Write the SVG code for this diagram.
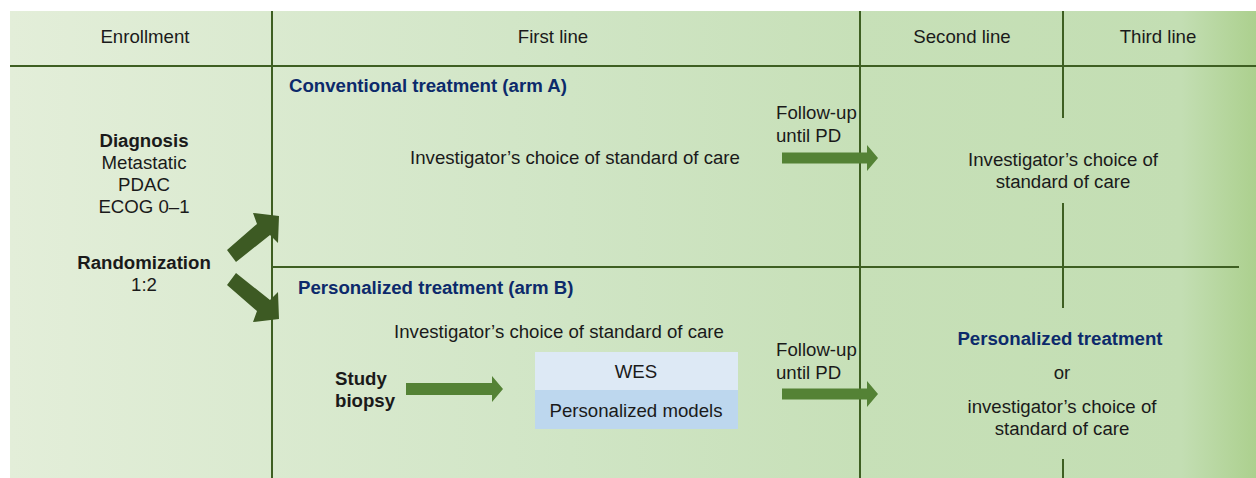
<svg xmlns="http://www.w3.org/2000/svg" width="1256" height="478" viewBox="0 0 1256 478">
  <defs>
    <linearGradient id="bg" x1="10" y1="0" x2="1256" y2="0" gradientUnits="userSpaceOnUse">
      <stop offset="0" stop-color="#e3eed9"/>
      <stop offset="0.45" stop-color="#d0e5c5"/>
      <stop offset="0.68" stop-color="#c7e0b8"/>
      <stop offset="0.94" stop-color="#c3deb3"/>
      <stop offset="1" stop-color="#acd08e"/>
    </linearGradient>
    <style>
      text { font-family: "Liberation Sans", Arial, sans-serif; font-size: 18.65px; fill: #1a1a1a; }
      .c { text-anchor: middle; }
      .b { font-weight: bold; }
      .navy { font-weight: bold; fill: #0c2a6b; }
      .grid { stroke: #3e5f22; stroke-width: 2; fill: none; }
      .rand { fill: #3d5a23; }
      .flow { fill: #548235; }
    </style>
  </defs>

  <!-- background panel -->
  <rect x="10" y="11" width="1246" height="467" fill="url(#bg)"/>

  <!-- table grid -->
  <g id="grid" class="grid">
    <line x1="10" y1="66" x2="1256" y2="66"/>
    <line x1="272" y1="11" x2="272" y2="478"/>
    <line x1="860" y1="11" x2="860" y2="478"/>
    <line x1="272" y1="267" x2="1239" y2="267"/>
    <line x1="1063" y1="11" x2="1063" y2="118"/>
    <line x1="1063" y1="203" x2="1063" y2="308"/>
    <line x1="1063" y1="459" x2="1063" y2="478"/>
  </g>

  <!-- column headers -->
  <g id="headers">
    <text class="c" x="145" y="43">Enrollment</text>
    <text class="c" x="553" y="43">First line</text>
    <text class="c" x="962" y="43">Second line</text>
    <text class="c" x="1158" y="43">Third line</text>
  </g>

  <!-- enrollment -->
  <g id="enrollment">
    <text class="c b" x="144" y="147">Diagnosis</text>
    <text class="c" x="144" y="169">Metastatic</text>
    <text class="c" x="144" y="191">PDAC</text>
    <text class="c" x="144" y="213">ECOG 0–1</text>
    <text class="c b" x="144" y="269">Randomization</text>
    <text class="c" x="144" y="291">1:2</text>
  </g>

  <!-- arm A -->
  <g id="arm-a">
    <text class="navy" x="289" y="92">Conventional treatment (arm A)</text>
    <text class="c" x="575" y="164">Investigator’s choice of standard of care</text>
    <text x="776" y="119">Follow-up</text>
    <text x="776" y="142">until PD</text>
  </g>

  <g id="arm-a-second">
    <text class="c" x="1063" y="166">Investigator’s choice of</text>
    <text class="c" x="1063" y="188">standard of care</text>
  </g>

  <!-- arm B -->
  <g id="arm-b">
    <text class="navy" x="298" y="294">Personalized treatment (arm B)</text>
    <text class="c" x="559" y="338">Investigator’s choice of standard of care</text>
    <text class="b" x="335" y="385">Study</text>
    <text class="b" x="335" y="407">biopsy</text>
    <text x="776" y="356">Follow-up</text>
    <text x="776" y="379">until PD</text>
  </g>

  <g id="models">
    <rect x="535" y="352" width="203" height="38" fill="#dde9f5"/>
    <rect x="535" y="390" width="203" height="39" fill="#bdd7ee"/>
    <text class="c" x="636" y="378">WES</text>
    <text class="c" x="636" y="417">Personalized models</text>
  </g>

  <g id="arm-b-second">
    <text class="c navy" x="1060" y="345">Personalized treatment</text>
    <text class="c" x="1062" y="379">or</text>
    <text class="c" x="1062" y="413">investigator’s choice of</text>
    <text class="c" x="1062" y="435">standard of care</text>
  </g>

  <!-- connectors -->
  <g id="connectors">
    <polygon class="rand" points="227,250 257,224 253,213 279,216 278,243 270,235 236,262"/>
    <polygon class="rand" points="227,285 257,311 253,322 279,319 278,292 270,300 236,273"/>
    <polygon class="flow" points="782,152.5 867,152.5 867,145 878,158 867,171 867,163.5 782,163.5"/>
    <polygon class="flow" points="782,388.5 867,388.5 867,381 878,394 867,407 867,399.5 782,399.5"/>
    <polygon class="flow" points="406,383 492,383 492,376 503,389 492,402 492,395 406,395"/>
  </g>
</svg>
